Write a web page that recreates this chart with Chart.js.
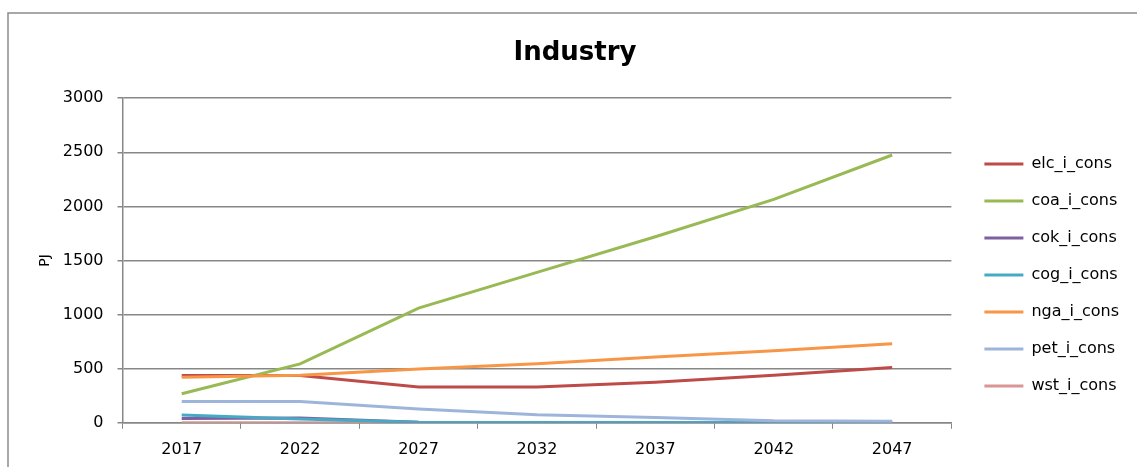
<!DOCTYPE html>
<html>
<head>
<meta charset="utf-8">
<script src="https://cdn.jsdelivr.net/npm/chart.js@4/dist/chart.umd.min.js"></script>
<style>
  html, body { margin: 0; padding: 0; background: #fff; }
  #wrap { position: relative; width: 1137px; height: 467px; }
</style>
</head>
<body>
<div id="wrap"><canvas id="industryChart" width="1137" height="467"></canvas></div>
<script>
var years = ["2017", "2022", "2027", "2032", "2037", "2042", "2047"];

var elc = [438, 436, 332, 332, 375, 440, 512];
var coa = [268, 545, 1060, 1390, 1720, 2065, 2475];
var cok = [40, 45, 5, 2, 1, 1, 1];
var cog = [72, 35, 5, 3, 3, 3, 3];
var nga = [420, 440, 497, 545, 608, 665, 730];
var pet = [197, 197, 128, 75, 50, 20, 15];
var wst = [1, 1, 1, 1, 1, 1, 1];

var seriesNames = ["elc_i_cons", "coa_i_cons", "cok_i_cons", "cog_i_cons", "nga_i_cons", "pet_i_cons", "wst_i_cons"];
var seriesColors = ["#BE4B48", "#98B954", "#7D60A0", "#46AAC5", "#F79646", "#9DB5DA", "#D99694"];
var seriesValues = [elc, coa, cok, cog, nga, pet, wst];

// paint order: first dataset ends up on top, wst stays underneath
var drawOrder = [5, 4, 3, 2, 1, 0, 6];
var datasets = drawOrder.map(function (i) {
    return {
        label: seriesNames[i],
        data: seriesValues[i],
        borderColor: seriesColors[i],
        backgroundColor: seriesColors[i],
        borderWidth: 3,
        pointRadius: 0,
        tension: 0
    };
});

var axisFont = { family: 'DejaVu Sans', size: 16 };

// outer frame of the chart box
var frame = {
    id: 'frame',
    beforeDraw: function (chart) {
        var c = chart.ctx;
        c.save();
        c.strokeStyle = '#8c8c8c';
        c.lineWidth = 1.5;
        c.beginPath();
        c.moveTo(8, 467);
        c.lineTo(8, 13);
        c.lineTo(1137, 13);
        c.stroke();
        c.restore();
    }
};

var ctx = document.getElementById("industryChart").getContext('2d');
new Chart(ctx, {
    type: 'line',
    data: { labels: years, datasets: datasets },
    plugins: [frame],
    options: {
        responsive: false,
        animation: false,
        layout: { padding: { left: 21, right: 8, top: 22, bottom: -3 } },
        plugins: {
            title: {
                display: true,
                text: 'Industry',
                color: '#000',
                font: { family: 'DejaVu Sans', size: 26, weight: 'bold' },
                padding: { top: 16, bottom: 29 }
            },
            legend: {
                position: 'right',
                align: 'center',
                // blank legend title pushes the entries down
                title: { display: true, text: '', font: { size: 1 }, padding: { top: 57, bottom: 0 } },
                labels: {
                    boxWidth: 39,
                    boxHeight: 0,
                    padding: 21,
                    color: '#000',
                    font: axisFont,
                    sort: function (a, b) {
                        return seriesNames.indexOf(a.text) - seriesNames.indexOf(b.text);
                    }
                }
            },
            tooltip: { enabled: false }
        },
        scales: {
            x: {
                offset: true,
                grid: {
                    offset: true,
                    drawOnChartArea: false,
                    drawTicks: true,
                    tickLength: 6,
                    color: '#878787'
                },
                border: { color: '#878787', width: 1.5 },
                ticks: { color: '#000', font: axisFont, padding: 11 }
            },
            y: {
                min: 0,
                max: 3000,
                ticks: {
                    stepSize: 500,
                    color: '#000',
                    font: axisFont,
                    padding: 14,
                    callback: function (v) { return String(v); }
                },
                grid: { color: '#878787', lineWidth: 1.5, tickLength: 5 },
                border: { color: '#878787', width: 1.5 },
                title: {
                    display: true,
                    text: 'PJ',
                    color: '#000',
                    font: { family: 'DejaVu Sans', size: 14 },
                    padding: { top: 16, bottom: -5 }
                }
            },
            // empty spacer between plot and legend
            gap: {
                type: 'linear',
                position: 'right',
                display: true,
                grid: { display: false },
                border: { display: false },
                ticks: { display: false },
                afterFit: function (scale) { scale.width = 12; }
            }
        }
    }
});
</script>
</body>
</html>
